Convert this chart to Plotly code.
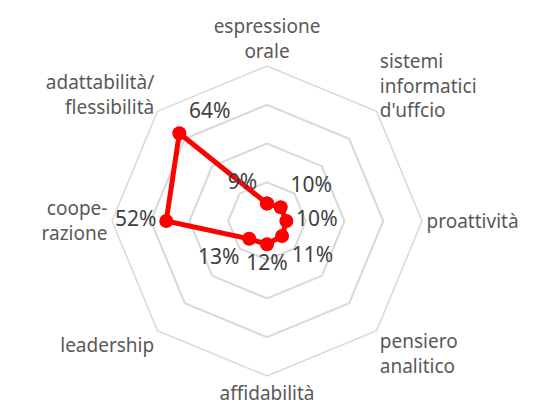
import plotly.graph_objects as go

# competenze e percentuali (in senso orario dall'alto)
categorie = [
    "espressione<br>orale",
    "sistemi<br>informatici<br>d'uffcio",
    "proattività",
    "pensiero<br>analitico",
    "affidabilità",
    "leadership",
    "coope-<br>razione",
    "adattabilità/<br>flessibilità",
]
valori = [9, 10, 10, 11, 12, 13, 52, 64]
etichette = [f"{v}%" for v in valori]
posizioni = ["top left", "top right", "middle right", "bottom right",
             "bottom center", "bottom left", "middle left", "top right"]

fig = go.Figure()
fig.add_trace(
    go.Scatterpolar(
        r=valori + valori[:1],
        theta=categorie + categorie[:1],
        mode="lines+markers+text",
        text=etichette + [""],
        textposition=posizioni + ["top left"],
        textfont=dict(family="Noto Sans", size=21, color="#404040"),
        line=dict(color="#ff0000", width=5),
        marker=dict(color="#ff0000", size=14),
        cliponaxis=False,
        showlegend=False,
    )
)

# la pagina ha un margine di 8px: dominio spostato di conseguenza
fig.update_layout(
    width=537,
    height=407,
    margin=dict(l=0, r=0, t=0, b=0),
    paper_bgcolor="white",
    font=dict(family="Noto Sans", size=19, color="#595959"),
    polar=dict(
        domain=dict(x=[104 / 537, 414 / 537], y=[39 / 407, 349 / 407]),
        bgcolor="white",
        gridshape="linear",
        radialaxis=dict(
            range=[0, 80],
            dtick=20,
            showticklabels=False,
            ticks="",
            showline=False,
            gridcolor="#d9d9d9",
            gridwidth=1.5,
        ),
        angularaxis=dict(
            rotation=90,
            direction="clockwise",
            showgrid=False,
            ticks="",
            linecolor="#d9d9d9",
            linewidth=1.5,
        ),
    ),
)

fig.write_html("out.html")
